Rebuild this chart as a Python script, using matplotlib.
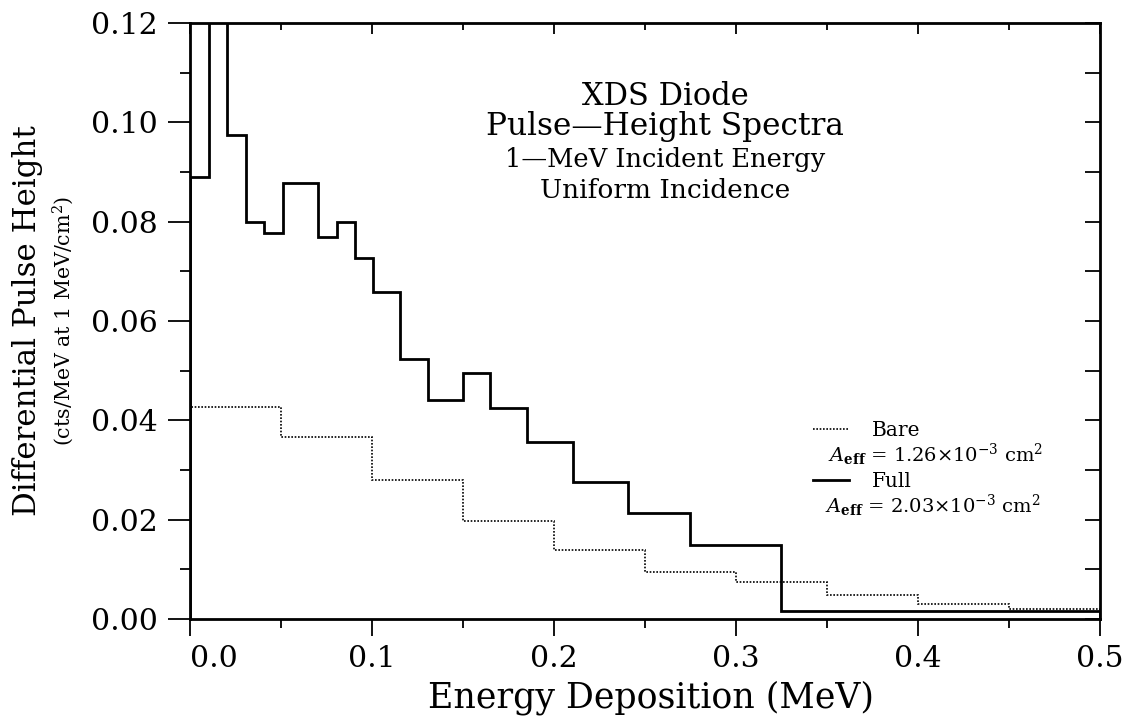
import numpy as np
import matplotlib
matplotlib.use("Agg")
import matplotlib.pyplot as plt
from matplotlib.ticker import MultipleLocator
from matplotlib.lines import Line2D

plt.rcParams['font.family'] = ['DejaVu Serif']
plt.rcParams['mathtext.fontset'] = 'dejavuserif'

# Full diode: variable-width bins (MeV) and differential pulse height
full_edges = [0.0, 0.0105, 0.0205, 0.0305, 0.0405, 0.051, 0.0705, 0.0805, 0.0905,
              0.1005, 0.1155, 0.1305, 0.150, 0.165, 0.185, 0.2105, 0.2405, 0.275,
              0.325, 0.5]
full_vals = [0.089, 0.135, 0.0975, 0.080, 0.0777, 0.0878, 0.077, 0.080, 0.0726,
             0.0658, 0.0524, 0.0441, 0.0495, 0.0425, 0.0357, 0.0276, 0.0213,
             0.0149, 0.0017]

# Bare diode: 0.05 MeV bins
bare_edges = [0.0, 0.05, 0.1, 0.15, 0.2, 0.25, 0.3, 0.35, 0.4, 0.45, 0.5]
bare_vals = [0.0426, 0.0367, 0.028, 0.0198, 0.0139, 0.0095, 0.0075, 0.0049,
             0.0030, 0.0020]

x_ticks = [0.0, 0.1, 0.2, 0.3, 0.4, 0.5]
y_ticks = [0.00, 0.02, 0.04, 0.06, 0.08, 0.10, 0.12]

fig = plt.figure(figsize=(11.27, 7.23), dpi=100)
ax = fig.add_axes([0.1686, 0.1438, 0.8074, 0.8244])

ax.stairs(bare_vals, bare_edges, baseline=0, color='black', lw=1.2,
          linestyle=(0, (1, 1)))
ax.stairs(full_vals, full_edges, baseline=0, color='black', lw=2.0)

ax.set_xlim(0, 0.5)
ax.set_ylim(0, 0.12)

for s in ax.spines.values():
    s.set_linewidth(2.0)

ax.set_xticks(x_ticks)
ax.set_xticklabels([f"{v:.1f}" for v in x_ticks])
ax.set_yticks(y_ticks)
ax.set_yticklabels([f"{v:.2f}" for v in y_ticks])
ax.xaxis.set_minor_locator(MultipleLocator(0.05))
ax.yaxis.set_minor_locator(MultipleLocator(0.01))

ax.tick_params(axis='x', which='major', direction='out', length=12, width=1.3,
               pad=7, labelsize=21.5)
ax.tick_params(axis='x', which='minor', direction='out', length=6.5, width=1.3)
ax.tick_params(axis='y', which='major', direction='out', length=16, width=1.3,
               pad=7, labelsize=21.5)
ax.tick_params(axis='y', which='minor', direction='out', length=7, width=1.3)
ax.get_xticklabels()[0].set_horizontalalignment('left')

# inward ticks on top and right
top = ax.secondary_xaxis('top')
top.set_xticks(x_ticks)
top.xaxis.set_minor_locator(MultipleLocator(0.05))
top.tick_params(which='major', direction='in', length=8, width=1.3, labeltop=False)
top.tick_params(which='minor', direction='in', length=5, width=1.3)
right = ax.secondary_yaxis('right')
right.set_yticks(y_ticks)
right.yaxis.set_minor_locator(MultipleLocator(0.01))
right.tick_params(which='both', direction='in', length=11, width=1.3, labelright=False)

fig.text(0.578, 0.021, "Energy Deposition (MeV)", ha='center', va='baseline',
         fontsize=25)
fig.text(0.024, 0.556, "Differential Pulse Height", rotation=90,
         ha='center', va='center', fontsize=22.2)
fig.text(0.056, 0.556, "(cts/MeV at 1 MeV/cm$^2$)", rotation=90,
         ha='center', va='center', fontsize=14.8)

cx = 0.522
ax.text(cx, 0.862, "XDS Diode", transform=ax.transAxes, ha='center',
        va='baseline', fontsize=22)
ax.text(cx, 0.812, "Pulse\u2014Height Spectra", transform=ax.transAxes,
        ha='center', va='baseline', fontsize=22.5)
ax.text(cx, 0.758, "1\u2014MeV Incident Energy", transform=ax.transAxes,
        ha='center', va='baseline', fontsize=18.5)
ax.text(cx, 0.706, "Uniform Incidence", transform=ax.transAxes,
        ha='center', va='baseline', fontsize=19)

handles = [Line2D([], [], color='black', lw=1.2, linestyle=(0, (1, 1))),
           Line2D([], [], color='black', lw=2.0)]
ax.legend(handles, ["Bare", "Full"], loc='center left',
          bbox_to_anchor=(0.665, 0.2735), frameon=False, fontsize=14.5,
          handlelength=1.8, labelspacing=1.6, handletextpad=1.1)
ax.text(0.701, 0.275, r"$A_{\mathbf{eff}}$ = 1.26$\times$10$^{-3}$ cm$^2$",
        transform=ax.transAxes, fontsize=14, va='center')
ax.text(0.698, 0.19, r"$A_{\mathbf{eff}}$ = 2.03$\times$10$^{-3}$ cm$^2$",
        transform=ax.transAxes, fontsize=14, va='center')

fig.savefig("out.png", dpi=100)
